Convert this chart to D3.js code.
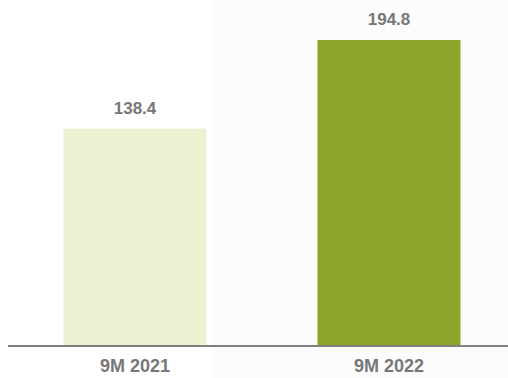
<!DOCTYPE html>
<html>
<head>
<meta charset="utf-8">
<script src="https://cdn.jsdelivr.net/npm/d3@7"></script>
<style>
    html, body { margin: 0; padding: 0; background: #fff; }
    svg { display: block; }
    .label { font-family: "Liberation Sans", Arial, sans-serif; font-weight: bold; fill: #777; text-anchor: middle; }
</style>
</head>
<body>
<svg id="chart"></svg>
<script>
const width = 508;
const height = 378;
const baseY = 346;

const categories = ['9M 2021', '9M 2022'];
const values = [138.4, 194.8];
const barColors = ['#eaf2d1', '#8ca62b'];

const chart = d3.select('#chart')
    .attr('width', width)
    .attr('height', height);

// faint grey panel behind the right part
chart.append('rect')
    .attr('x', 212)
    .attr('y', 0)
    .attr('width', width - 212)
    .attr('height', height)
    .style('fill', '#fcfcfc');

const x = d3.scaleBand()
    .domain(categories)
    .range([8, 516])
    .paddingInner(0.437)
    .paddingOuter(0.2185);

const y = d3.scaleLinear()
    .domain([0, 194.8])
    .range([baseY, 40]);

const bar = chart.selectAll('g.bar')
    .data(values)
    .enter().append('g')
    .classed('bar', true);

bar.append('rect')
    .attr('x', (_, i) => x(categories[i]))
    .attr('y', d => y(d))
    .attr('width', x.bandwidth())
    .attr('height', d => baseY - y(d))
    .style('fill', (_, i) => barColors[i]);

bar.append('text')
    .classed('label', true)
    .attr('x', (_, i) => x(categories[i]) + x.bandwidth() / 2)
    .attr('y', d => y(d) - 15)
    .style('font-size', '17px')
    .text(d => d.toFixed(1));

chart.append('line')
    .attr('x1', 8)
    .attr('x2', width)
    .attr('y1', baseY)
    .attr('y2', baseY)
    .style('stroke', '#808080')
    .style('stroke-width', 2);

chart.selectAll('text.cat')
    .data(categories)
    .enter().append('text')
    .classed('label', true)
    .classed('cat', true)
    .attr('x', d => x(d) + x.bandwidth() / 2)
    .attr('y', 372)
    .style('font-size', '18px')
    .text(d => d);
</script>
</body>
</html>
